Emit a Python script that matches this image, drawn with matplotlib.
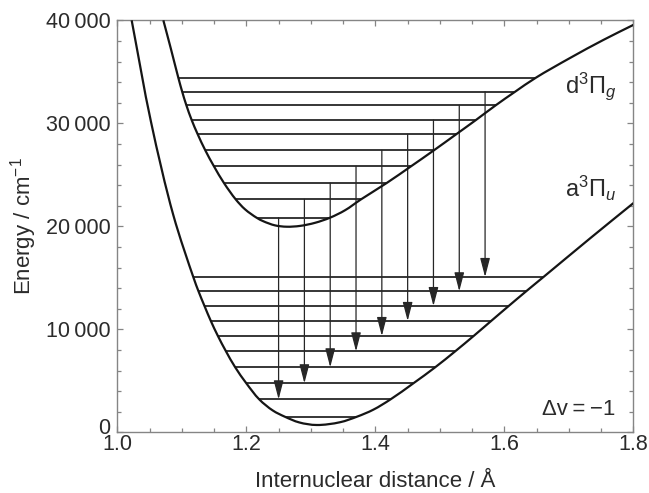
import numpy as np
import matplotlib
matplotlib.use("Agg")
import matplotlib.pyplot as plt
import matplotlib.transforms as mtrans
from matplotlib.path import Path
from matplotlib.patches import PathPatch
from matplotlib.ticker import MultipleLocator, FuncFormatter

# ---------------- data ----------------
# lower potential a3Pi_u : internuclear distance (Angstrom), energy (cm^-1)
a_r = [1.0223, 1.0522, 1.0868, 1.1178, 1.1259, 1.1352, 1.1450, 1.1560, 1.1685,
       1.1828, 1.2000, 1.2200, 1.2410, 1.2595, 1.2820, 1.3091, 1.3453, 1.3716,
       1.3969, 1.4235, 1.4589, 1.4926, 1.5236, 1.5522, 1.5794, 1.6065, 1.6336,
       1.6605, 1.7329, 1.8000]
a_E = [40000, 30160, 21100, 15080, 13690, 12260, 10810, 9350, 7860,
       6310, 4760, 3200, 2120, 1520, 960, 710, 980, 1520,
       2200, 3200, 4760, 6310, 7860, 9350, 10810, 12260, 13690,
       15080, 18840, 22260]

# upper potential d3Pi_g
d_r = [1.0714, 1.0829, 1.0946, 1.1006, 1.1071, 1.1153, 1.1247, 1.1364, 1.1498,
       1.1654, 1.1835, 1.1980, 1.2158, 1.2264, 1.2445, 1.2626, 1.2833, 1.3065,
       1.3298, 1.3530, 1.3778, 1.4174, 1.4553, 1.4907, 1.5251, 1.5558, 1.5865,
       1.6166, 1.6488, 1.7019, 1.7535, 1.8000]
d_E = [40000, 37280, 34430, 33070, 31750, 30320, 28930, 27380, 25830,
       24200, 22620, 21650, 20840, 20490, 20090, 19960, 20040, 20340,
       20840, 21560, 22620, 24200, 25830, 27380, 28930, 30320, 31750,
       33070, 34430, 36350, 38100, 39560]

# vibrational levels (cm^-1)
a_levels = [1520, 3200, 4760, 6310, 7860, 9350, 10810, 12260, 13690, 15080]
d_levels = [20840, 22620, 24200, 25830, 27380, 28930, 30320, 31750, 33070, 34430]

# transitions v' -> v'+1 drawn at these distances
arrow_r = [1.25, 1.29, 1.33, 1.37, 1.41, 1.45, 1.49, 1.53, 1.57]
arrow_from = [0, 1, 2, 3, 4, 5, 6, 7, 8]      # index in d_levels
arrow_to = [1, 2, 3, 4, 5, 6, 7, 8, 9]        # index in a_levels

x_ticks = [1.0, 1.2, 1.4, 1.6, 1.8]
y_ticks = [0, 10000, 20000, 30000, 40000]

# ---------------- style ----------------
plt.rcParams['font.family'] = ['Liberation Sans', 'DejaVu Sans']
plt.rcParams['mathtext.fontset'] = 'custom'
plt.rcParams['mathtext.rm'] = 'Liberation Sans'
plt.rcParams['mathtext.it'] = 'Liberation Sans:italic'
plt.rcParams['mathtext.bf'] = 'Liberation Sans:bold'

TXT = '#2b2b2b'
FRAME = '#858585'
INK = '#151515'

fig = plt.figure(figsize=(6.49, 4.93), dpi=100)
ax = fig.add_axes([0.1807, 0.1231, 0.7954, 0.8357])
ax.set_xlim(1.0, 1.8)
ax.set_ylim(0, 40000)


def branch_ends(r, E, level):
    r = np.asarray(r, float)
    E = np.asarray(E, float)
    i = int(np.argmin(E))
    left = np.interp(level, E[:i + 1][::-1], r[:i + 1][::-1])
    right = np.interp(level, E[i:], r[i:])
    return left, right


def smooth_curve(r, E):
    """Smooth Bezier path through the read points (centripetal Catmull-Rom)."""
    sx, sy = 645.0, 1 / 97.09          # roughly equal visual scaling
    P = np.column_stack([(np.asarray(r) - 1.0) * sx, np.asarray(E) * sy])
    Pe = np.vstack([2 * P[0] - P[1], P, 2 * P[-1] - P[-2]])
    verts = [P[0]]
    codes = [Path.MOVETO]
    a = 0.5
    for i in range(1, len(P)):
        p0, p1, p2, p3 = Pe[i - 1], Pe[i], Pe[i + 1], Pe[i + 2]
        d1 = max(np.linalg.norm(p1 - p0), 1e-9) ** a
        d2 = max(np.linalg.norm(p2 - p1), 1e-9) ** a
        d3 = max(np.linalg.norm(p3 - p2), 1e-9) ** a
        b1 = (d1 ** 2 * p2 - d2 ** 2 * p0 + (2 * d1 ** 2 + 3 * d1 * d2 + d2 ** 2) * p1) / (3 * d1 * (d1 + d2))
        b2 = (d3 ** 2 * p1 - d2 ** 2 * p3 + (2 * d3 ** 2 + 3 * d3 * d2 + d2 ** 2) * p2) / (3 * d3 * (d3 + d2))
        verts += [b1, b2, p2]
        codes += [Path.CURVE4] * 3
    V = np.array(verts)
    V[:, 0] = V[:, 0] / sx + 1.0
    V[:, 1] = V[:, 1] / sy
    return Path(V, codes)


# levels
for lv in a_levels:
    l, rr = branch_ends(a_r, a_E, lv)
    ax.plot([l, rr], [lv, lv], color='#1e1e1e', lw=1.25, solid_capstyle='butt', zorder=2)
for lv in d_levels:
    l, rr = branch_ends(d_r, d_E, lv)
    ax.plot([l, rr], [lv, lv], color='#1e1e1e', lw=1.25, solid_capstyle='butt', zorder=2)

# arrows
for x, i0, i1 in zip(arrow_r, arrow_from, arrow_to):
    ax.annotate('', xy=(x, a_levels[i1]), xytext=(x, d_levels[i0]),
                arrowprops=dict(arrowstyle='-|>,head_length=1.15,head_width=0.3',
                                color='#262626', lw=0.9, shrinkA=0, shrinkB=0,
                                mutation_scale=10),
                zorder=3)

# potential curves
for rr_, EE_ in ((a_r, a_E), (d_r, d_E)):
    ax.add_patch(PathPatch(smooth_curve(rr_, EE_), fill=False, edgecolor=INK,
                           lw=1.6, zorder=4, joinstyle='round'))

# labels in plot
ax.text(1.773, 32900, r'd$^3\Pi_g$', ha='right', va='baseline', fontsize=17, color=TXT)
ax.text(1.773, 22800, r'a$^3\Pi_u$', ha='right', va='baseline', fontsize=17, color=TXT)
ax.text(1.772, 1680, 'Δv\u2009=\u2009−1', ha='right', va='baseline', fontsize=16, color=TXT)

# axes
ax.set_xticks(x_ticks)
ax.set_yticks(y_ticks)
ax.xaxis.set_minor_locator(MultipleLocator(0.05))
ax.yaxis.set_minor_locator(MultipleLocator(2000))
ax.xaxis.set_major_formatter(FuncFormatter(lambda v, p: f'{v:.1f}'))
ax.yaxis.set_major_formatter(
    FuncFormatter(lambda v, p: f'{int(round(v)):,}'.replace(',', '\u2009')))

for s in ax.spines.values():
    s.set_color(FRAME)
    s.set_linewidth(1.0)
ax.tick_params(which='both', direction='in', top=True, right=True,
               color=FRAME, width=0.9, labelcolor=TXT, labelsize=15.5)
ax.tick_params(which='major', length=4.5)
ax.tick_params(which='minor', length=2.8)
ax.tick_params(axis='x', which='major', pad=1.5)
ax.tick_params(axis='y', which='major', pad=5)

# raise the "0" label a little, as in the reference
zero_lab = ax.yaxis.get_major_ticks()[0].label1
zero_lab.set_transform(zero_lab.get_transform() +
                       mtrans.ScaledTranslation(0, 4.5 / 72, fig.dpi_scale_trans))

ax.set_ylabel('Energy / cm$^{-1}$', fontsize=16, color=TXT)
ax.yaxis.set_label_coords(-0.152, 0.5)
ax.set_xlabel('Internuclear distance / Å', fontsize=16, color=TXT)
ax.xaxis.set_label_coords(0.5, -0.095)

fig.savefig('out.png', dpi=100)
